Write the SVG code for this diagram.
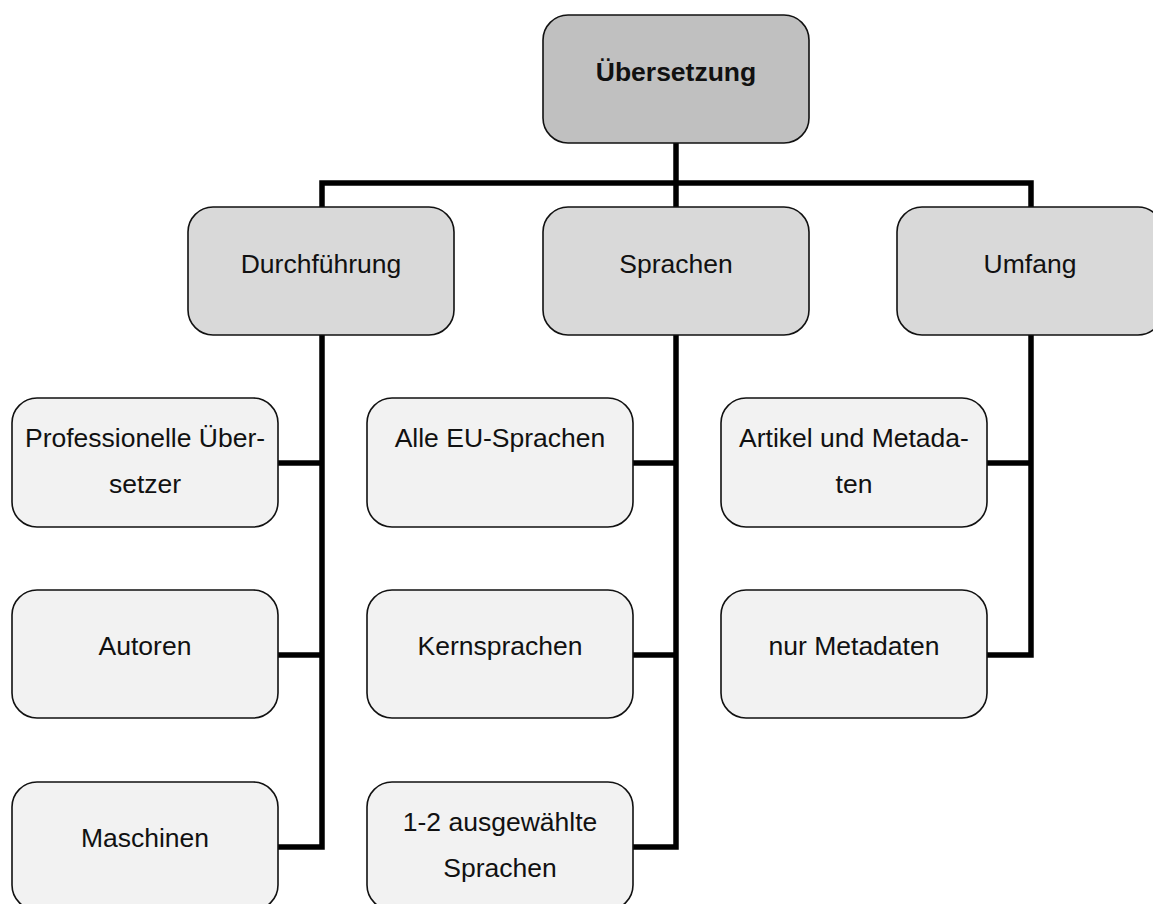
<svg xmlns="http://www.w3.org/2000/svg" width="1153" height="904" viewBox="0 0 1153 904">
  <style>
    .box rect { stroke: #111; stroke-width: 1.6; }
    .l1 rect { fill: #c0c0c0; }
    .l2 rect { fill: #d9d9d9; }
    .l3 rect { fill: #f2f2f2; }
    text { font-family: "Liberation Sans", Arial, sans-serif; font-size: 26.5px; fill: #111; text-anchor: middle; }
    .l1 text { font-weight: bold; }
    .wire { fill: none; stroke: #000; stroke-width: 5.5; stroke-linejoin: miter; }
  </style>
  <rect width="1153" height="904" fill="#fff"/>

  <!-- connectors -->
  <g id="connectors" class="wire">
    <path d="M676 143 V207"/>
    <path d="M322 207 V183 H1031 V207"/>
    <!-- Durchführung branch -->
    <path d="M322 335 V847 H278"/>
    <path d="M278 463 H322"/>
    <path d="M278 655 H322"/>
    <!-- Sprachen branch -->
    <path d="M676 335 V847 H633"/>
    <path d="M633 463 H676"/>
    <path d="M633 655 H676"/>
    <!-- Umfang branch -->
    <path d="M1031 335 V655 H987"/>
    <path d="M987 463 H1031"/>
  </g>

  <!-- root -->
  <g id="uebersetzung" class="box l1">
    <rect x="543" y="15" width="266" height="128" rx="25"/>
    <text x="676" y="81">Übersetzung</text>
  </g>

  <!-- second level -->
  <g id="durchfuehrung" class="box l2">
    <rect x="188" y="207" width="266" height="128" rx="25"/>
    <text x="321" y="273">Durchführung</text>
  </g>
  <g id="sprachen" class="box l2">
    <rect x="543" y="207" width="266" height="128" rx="25"/>
    <text x="676" y="273">Sprachen</text>
  </g>
  <g id="umfang" class="box l2">
    <rect x="897" y="207" width="266" height="128" rx="25"/>
    <text x="1030" y="273">Umfang</text>
  </g>

  <!-- third level: Durchführung -->
  <g id="professionelle" class="box l3">
    <rect x="12" y="398" width="266" height="129" rx="25"/>
    <text x="145" y="447">Professionelle Über-</text>
    <text x="145" y="493">setzer</text>
  </g>
  <g id="autoren" class="box l3">
    <rect x="12" y="590" width="266" height="128" rx="25"/>
    <text x="145" y="655">Autoren</text>
  </g>
  <g id="maschinen" class="box l3">
    <rect x="12" y="782" width="266" height="128" rx="25"/>
    <text x="145" y="847">Maschinen</text>
  </g>

  <!-- third level: Sprachen -->
  <g id="alle-eu" class="box l3">
    <rect x="367" y="398" width="266" height="129" rx="25"/>
    <text x="500" y="447">Alle EU-Sprachen</text>
  </g>
  <g id="kernsprachen" class="box l3">
    <rect x="367" y="590" width="266" height="128" rx="25"/>
    <text x="500" y="655">Kernsprachen</text>
  </g>
  <g id="ausgewaehlte" class="box l3">
    <rect x="367" y="782" width="266" height="128" rx="25"/>
    <text x="500" y="831">1-2 ausgewählte</text>
    <text x="500" y="877">Sprachen</text>
  </g>

  <!-- third level: Umfang -->
  <g id="artikel-metadaten" class="box l3">
    <rect x="721" y="398" width="266" height="129" rx="25"/>
    <text x="854" y="447">Artikel und Metada-</text>
    <text x="854" y="493">ten</text>
  </g>
  <g id="nur-metadaten" class="box l3">
    <rect x="721" y="590" width="266" height="128" rx="25"/>
    <text x="854" y="655">nur Metadaten</text>
  </g>
</svg>
